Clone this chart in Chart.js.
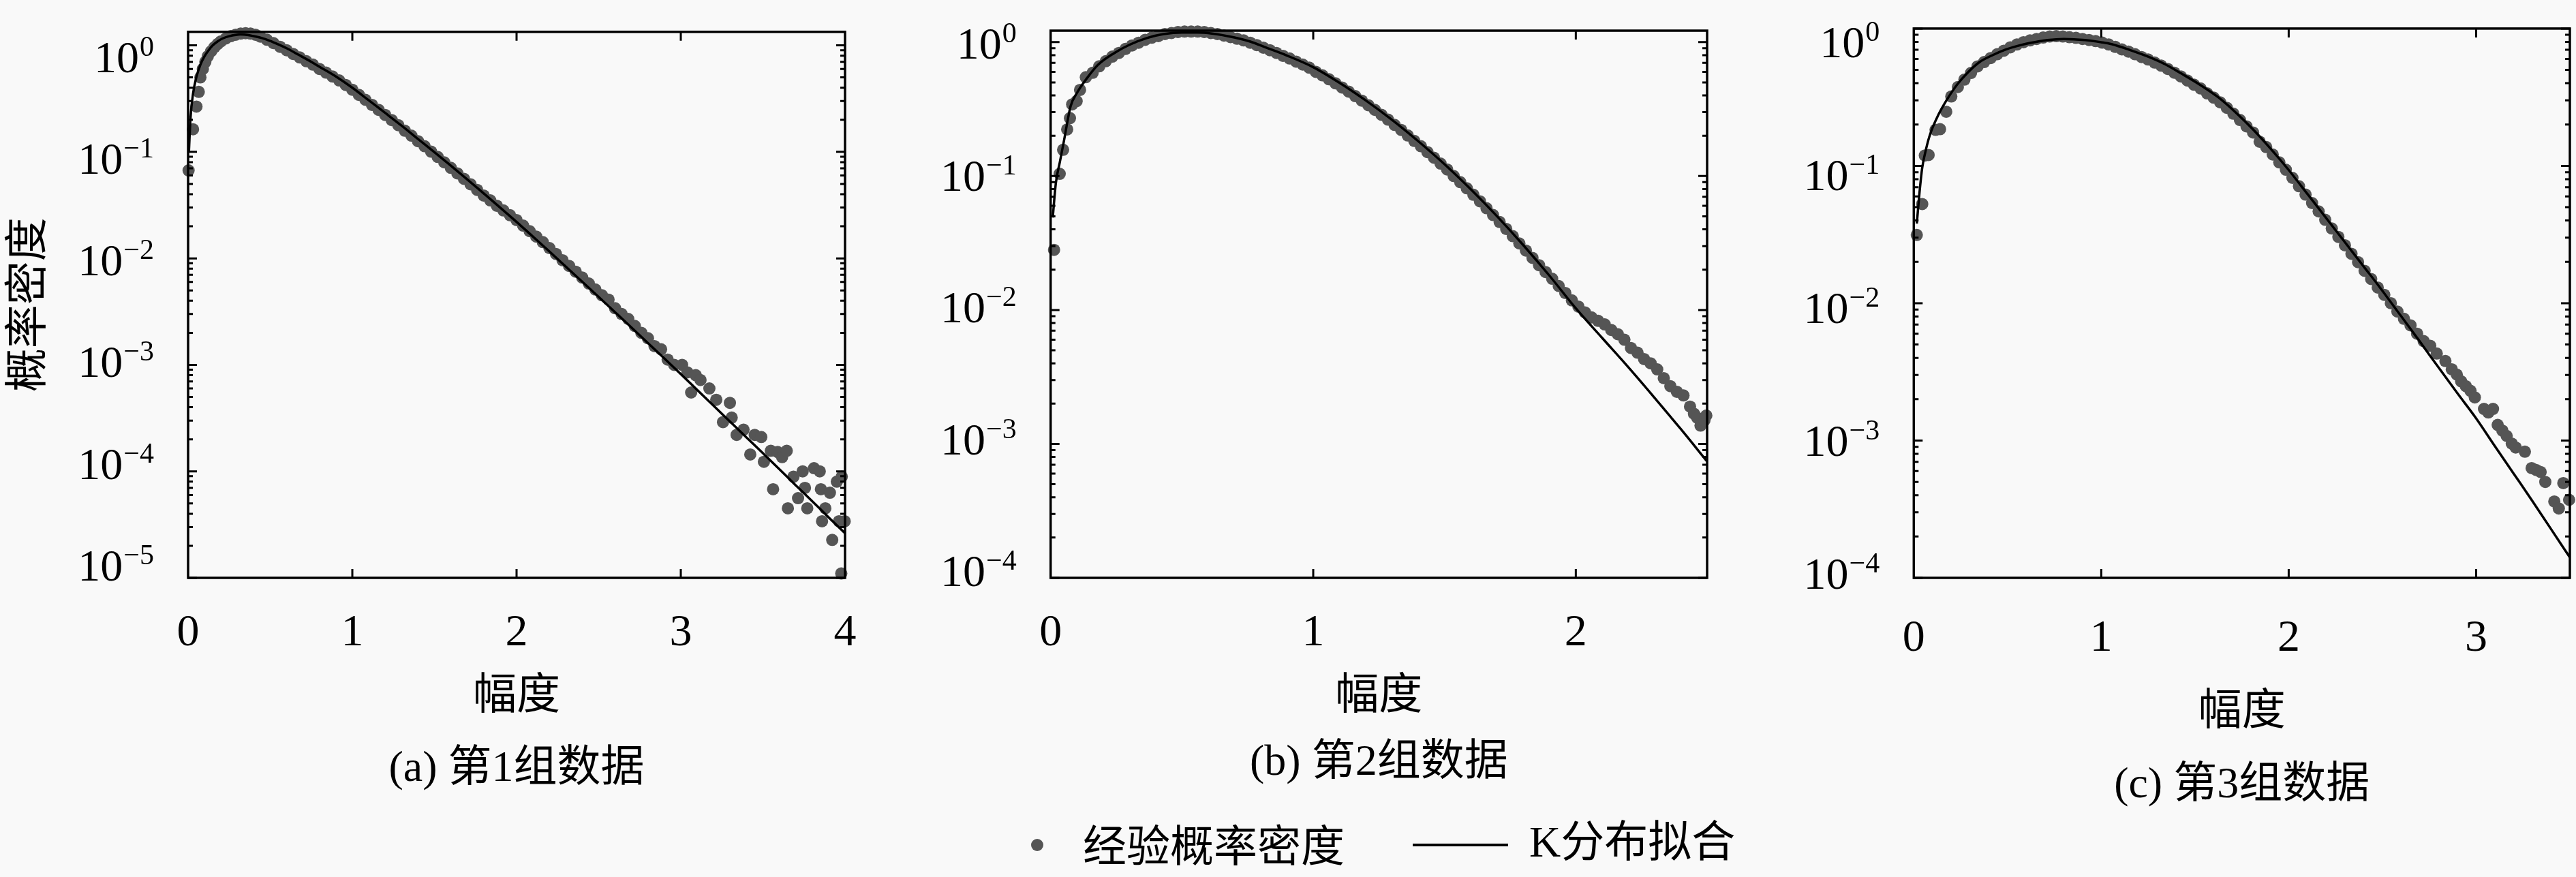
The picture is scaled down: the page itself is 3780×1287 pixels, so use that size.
<!DOCTYPE html>
<html>
<head>
<meta charset="utf-8">
<script src="https://cdn.jsdelivr.net/npm/chart.js@4.4.1/dist/chart.umd.min.js"></script>
<style>
html,body{margin:0;padding:0;background:#f9f9f9;}
#page{position:relative;width:3780px;height:1287px;overflow:hidden;background:#f9f9f9;}
#page canvas{position:absolute;top:0;}
.lg{position:absolute;color:#000;font-size:64px;line-height:64px;white-space:nowrap;}
</style>
</head>
<body>
<div id="page">
<canvas id="ca" width="1300" height="1287" style="left:0px;width:1300px;height:1287px"></canvas>
<canvas id="cb" width="1300" height="1287" style="left:1300px;width:1300px;height:1287px"></canvas>
<canvas id="cc" width="1180" height="1287" style="left:2600px;width:1180px;height:1287px"></canvas>
<div id="lgDot" style="position:absolute;left:1512.6px;top:1231px;width:18px;height:18px;border-radius:50%;background:#555;"></div>
<div class="lg" style="left:1589px;top:1204px;font-family:'Noto Sans CJK SC';">经验概率密度</div>
<div style="position:absolute;left:2073px;top:1238px;width:140px;height:3.5px;background:#000;"></div>
<div class="lg" style="left:2244px;top:1204px;font-family:'Liberation Serif','Noto Sans CJK SC';">K分布拟合</div>
</div>
<script>
// ---------------- data ----------------
const xTicksA = [0, 1, 2, 3, 4];
const xTicksB = [0, 1, 2];
const xTicksC = [0, 1, 2, 3];
const yExpA = [-5, -4, -3, -2, -1, 0];
const yExpB = [-4, -3, -2, -1, 0];
const yExpC = [-4, -3, -2, -1, 0];

const captions = ['(a) 第1组数据', '(b) 第2组数据', '(c) 第3组数据'];
const xTitle = '幅度';
const yTitle = '概率密度';
const legendLabels = ['经验概率密度', 'K分布拟合'];

// (a) K-distribution fit
const ampA_fit = [0.005,0.015,0.03,0.05,0.075,0.10,0.125,0.15,0.18,0.21,0.25,0.29,0.32,0.36,0.40,0.45,0.50,0.55,0.60,0.67,0.75,0.80,0.90,1.0,
  1.1,1.2,1.3,1.4,1.5,1.6,1.7,1.8,1.9,2.0,2.1,2.2,2.3,2.4,2.5,2.6,2.7,2.8,2.9,3.0,3.1,3.2,3.3,3.4,3.5,3.6,3.7,3.8,3.9,4.0];
const pdfA_fit = [0.10,0.21,0.35,0.50,0.66,0.79,0.90,1.00,1.09,1.16,1.22,1.255,1.265,1.255,1.22,1.17,1.10,1.02,0.94,0.82,0.70,0.63,0.51,0.40,
  0.305,0.232,0.176,0.132,0.0993,0.0741,0.0551,0.0407,0.0300,0.0220,0.0160,0.0116,0.00836,0.00603,0.00434,0.00312,0.00224,0.00160,0.00115,0.00082,
  0.000582,0.000413,0.000293,0.000208,0.000148,0.000105,0.000074,0.0000525,0.000037,0.0000263];
// (a) empirical pdf
const ampA_emp = [0.003,0.030,0.051,0.065,0.075,0.09,0.105,0.12,0.14,0.16,0.18,0.20,0.23,0.26,0.29,0.32,0.35,0.38,0.41,0.44,
  0.48,0.52,0.56,0.60,0.64,0.68,0.72,0.76,0.80,0.84,0.88,0.92,0.96,1.00,1.04,1.08,1.12,1.16,1.20,1.24,1.28,1.32,1.36,1.40,1.44,1.48,
  1.52,1.56,1.60,1.64,1.68,1.72,1.76,1.80,1.84,1.88,1.92,1.96,2.00,2.04,2.08,2.12,2.16,2.20,2.24,2.28,2.32,2.36,2.40,2.44,2.48,
  2.52,2.56,2.60,2.64,2.68,2.72,2.76,2.80,2.84,2.88,2.92,2.96,
  3.008,3.04,3.063,3.091,3.12,3.174,3.216,3.257,3.299,3.31,3.34,3.382,3.423,3.45,3.49,3.506,3.548,3.562,3.59,3.617,3.645,3.652,
  3.686,3.714,3.742,3.756,3.77,3.811,3.846,3.853,3.86,3.88,3.908,3.922,3.95,3.963,3.977,3.98,3.998];
const pdfA_emp = [0.067,0.163,0.266,0.366,0.50,0.60,0.70,0.79,0.88,0.96,1.03,1.09,1.16,1.22,1.26,1.29,1.30,1.29,1.26,1.21,
  1.13,1.05,0.97,0.90,0.83,0.77,0.71,0.66,0.60,0.555,0.51,0.468,0.425,0.383,0.343,0.308,0.276,0.248,0.222,0.199,0.178,0.158,0.142,0.126,0.113,0.1005,
  0.0896,0.0797,0.0708,0.0628,0.0558,0.0496,0.0439,0.0389,0.035,0.0312,0.0282,0.0254,0.0229,0.0203,0.018,0.016,0.0142,0.0125,0.011,0.0096,0.0085,0.0075,0.0066,0.0058,0.0051,
  0.0045,0.0041,0.0034,0.0030,0.0027,0.00232,0.0020,0.00178,0.0015,0.0014,0.00112,0.0010,
  0.0010,0.00085,0.00055,0.00080,0.00072,0.00060,0.00047,0.00029,0.00044,0.00032,0.00022,0.000246,0.000144,0.00022,0.00021,0.000123,0.000156,0.000068,0.000152,0.000136,0.000156,0.000045,
  0.000089,0.000056,0.00010,0.000070,0.000045,0.000107,0.00010,0.000068,0.000034,0.000045,0.000063,0.0000227,0.00008,0.000034,0.000011,0.000089,0.000034];

// (b) K-distribution fit
const ampB_fit = [0.008,0.02,0.035,0.05,0.076,0.10,0.138,0.18,0.242,0.30,0.366,0.43,0.50,0.56,0.614,0.70,0.76,0.821,0.90,1.0,
  1.1,1.2,1.3,1.4,1.5,1.6,1.7,1.8,1.9,2.0,2.1,2.2,2.3,2.4,2.5];
const pdfB_fit = [0.049,0.089,0.127,0.18,0.332,0.417,0.537,0.676,0.828,0.955,1.073,1.148,1.18,1.18,1.16,1.084,1.01,0.91,0.794,0.65,
  0.497,0.367,0.263,0.182,0.1225,0.0796,0.0501,0.0305,0.018,0.0103,0.0062,0.00374,0.00221,0.00129,0.00074];
// (b) empirical pdf
const ampB_emp = [0.013,0.0345,0.0475,0.063,0.0735,0.082,0.099,0.112,0.134,
  0.16,0.185,0.21,0.235,0.26,0.285,0.31,0.335,0.36,0.385,0.41,0.435,0.46,0.485,0.51,0.535,0.56,0.585,0.61,0.635,0.66,0.685,0.71,0.735,0.76,0.785,0.81,0.835,0.86,0.885,0.91,0.935,0.96,0.985,
  1.01,1.035,1.06,1.085,1.11,1.135,1.16,1.185,1.21,1.235,1.26,1.285,1.31,1.335,1.36,1.385,1.41,1.435,1.46,1.485,1.51,1.535,1.56,1.585,1.61,1.635,1.66,1.685,1.71,1.735,1.76,1.785,1.81,1.835,1.86,1.885,1.91,1.935,1.96,1.985,
  2.01,2.035,2.06,2.085,2.11,2.135,2.16,2.185,2.21,2.235,2.26,2.285,2.31,2.335,2.36,2.385,2.41,2.435,2.45,2.462,2.475,2.49,2.497];
const pdfB_emp = [0.0281,0.104,0.157,0.223,0.271,0.343,0.363,0.44,0.547,
  0.59,0.66,0.72,0.78,0.83,0.89,0.945,0.99,1.04,1.08,1.11,1.15,1.17,1.19,1.20,1.20,1.20,1.19,1.17,1.15,1.12,1.09,1.06,1.03,0.99,0.95,0.91,0.87,0.83,0.79,0.755,0.715,0.68,0.645,
  0.60,0.565,0.528,0.492,0.458,0.427,0.395,0.366,0.338,0.312,0.287,0.264,0.241,0.221,0.201,0.183,0.167,0.151,0.137,0.124,0.112,0.100,0.090,0.081,0.0725,0.0648,0.0575,0.0512,0.0454,0.0403,0.0356,0.0314,0.0278,0.0245,0.0216,0.0192,0.0171,0.0151,0.0134,0.0118,
  0.0106,0.0096,0.0088,0.0083,0.0078,0.0071,0.0066,0.0060,0.0052,0.0048,0.0043,0.0040,0.0036,0.0031,0.0027,0.00245,0.0023,0.0019,0.00168,0.00157,0.00137,0.0015,0.00163];

// (c) K-distribution fit
const ampC_fit = [0.016,0.03,0.045,0.065,0.087,0.13,0.173,0.23,0.287,0.35,0.42,0.486,0.55,0.62,0.714,0.80,0.913,1.0,1.055,1.15,1.25,1.34,1.43,1.52,1.624,
  1.72,1.81,1.9,2.0,2.1,2.194,2.3,2.4,2.478,2.6,2.7,2.763,2.9,3.0,3.1,3.2,3.3,3.4,3.5];
const pdfC_fit = [0.038,0.063,0.097,0.132,0.17,0.234,0.298,0.389,0.477,0.569,0.64,0.70,0.745,0.785,0.825,0.84,0.825,0.795,0.77,0.70,0.624,0.55,0.468,0.395,0.316,
  0.243,0.184,0.135,0.0933,0.0624,0.0427,0.0278,0.0185,0.0135,0.00804,0.00525,0.00398,0.00221,0.00145,0.00091,0.000575,0.000363,0.000226,0.000141];
// (c) empirical pdf
const ampC_emp = [0.016,0.045,0.059,0.079,0.116,0.14,0.173,
  0.20,0.235,0.27,0.305,0.34,0.375,0.41,0.445,0.48,0.515,0.55,0.585,0.62,0.655,0.69,0.725,0.76,0.795,0.83,0.865,0.90,0.935,0.97,1.005,
  1.04,1.075,1.11,1.145,1.18,1.215,1.25,1.285,1.32,1.355,1.39,1.425,1.46,1.495,1.53,1.565,1.60,1.635,1.67,1.705,1.74,1.775,1.81,1.845,1.88,1.915,1.95,1.985,
  2.02,2.055,2.09,2.125,2.16,2.195,2.23,2.265,2.30,2.335,2.37,2.405,2.44,2.475,2.51,2.545,2.58,2.615,2.65,2.685,2.72,2.755,2.79,
  2.836,2.87,2.897,2.92,2.945,2.97,2.993,3.042,3.065,3.09,3.115,3.14,3.163,3.19,3.211,3.26,3.296,3.32,3.344,3.369,3.417,3.441,3.465,3.496];
const pdfC_emp = [0.0314,0.0527,0.119,0.12,0.183,0.185,0.248,
  0.32,0.375,0.425,0.475,0.53,0.57,0.61,0.65,0.69,0.73,0.765,0.795,0.82,0.84,0.86,0.875,0.88,0.875,0.865,0.855,0.84,0.825,0.81,0.79,
  0.765,0.735,0.705,0.68,0.65,0.62,0.595,0.565,0.537,0.508,0.477,0.448,0.418,0.39,0.366,0.337,0.314,0.29,0.265,0.24,0.216,0.194,0.175,0.15,0.137,0.121,0.106,0.0937,
  0.0818,0.0711,0.0618,0.0536,0.0466,0.0405,0.035,0.0304,0.0264,0.0229,0.0199,0.0172,0.0150,0.0130,0.0115,0.0100,0.0087,0.0077,0.0069,0.0060,0.0053,0.0049,0.0043,
  0.00379,0.0033,0.00302,0.0027,0.00249,0.0023,0.00206,0.0017,0.0016,0.0017,0.0013,0.00118,0.00108,0.00095,0.00089,0.00083,0.00063,0.00061,0.00059,0.0005,0.00036,0.00032,0.00049,0.00037];

// ---------------- helpers ----------------
function pts(xs, ys) {
  const n = Math.min(xs.length, ys.length), out = [];
  for (let i = 0; i < n; i++) out.push({x: xs[i], y: ys[i]});
  return out;
}

const NUM_FONT = 'Liberation Serif';
const CJK_FONT = 'Noto Sans CJK SC';

const frameTicks = {
  id: 'frameTicks',
  afterDatasetsDraw(chart, args, opts) {
    const {ctx, chartArea: a} = chart;
    const x = chart.scales.x, y = chart.scales.y;
    ctx.save();
    ctx.strokeStyle = '#000';
    ctx.fillStyle = '#000';
    ctx.lineWidth = 3;
    ctx.beginPath();
    x.ticks.forEach(t => {
      const px = x.getPixelForValue(t.value);
      if (px <= a.left + 2 || px >= a.right - 2) return;
      ctx.moveTo(px, a.bottom); ctx.lineTo(px, a.bottom - 13);
      ctx.moveTo(px, a.top); ctx.lineTo(px, a.top + 13);
    });
    y.ticks.forEach(t => {
      const py = y.getPixelForValue(t.value);
      if (py < a.top - 0.5 || py > a.bottom + 0.5) return;
      const len = t.major ? 13 : 7;
      ctx.moveTo(a.left, py); ctx.lineTo(a.left + len, py);
      ctx.moveTo(a.right, py); ctx.lineTo(a.right - len, py);
    });
    ctx.stroke();
    ctx.lineWidth = 3.5;
    ctx.strokeRect(a.left, a.top, a.right - a.left, a.bottom - a.top);
    // y tick labels 10^e
    const mid = (a.top + a.bottom) / 2;
    ctx.textAlign = 'right';
    ctx.textBaseline = 'alphabetic';
    opts.exps.forEach(e => {
      const py = y.getPixelForValue(Math.pow(10, e));
      const ly = py + opts.k * (mid - py) + opts.off;
      const xr = a.left - 50;
      const expStr = e === 0 ? '0' : '\u2212' + Math.abs(e);
      ctx.font = '42px "' + NUM_FONT + '"';
      const w = ctx.measureText(expStr).width;
      ctx.fillText(expStr, xr, ly - 2);
      ctx.font = '66px "' + NUM_FONT + '"';
      ctx.fillText('10', xr - w - 1, ly + 22);
    });
    ctx.restore();
  }
};

function makeChart(id, cfg) {
  const yTicksFn = s => {
    const t = [];
    const e0 = Math.floor(Math.log10(cfg.yMin)) , e1 = Math.ceil(Math.log10(cfg.yMax));
    for (let e = e0; e <= e1; e++) {
      for (let m = 1; m <= 9; m++) {
        const v = m * Math.pow(10, e);
        if (v >= cfg.yMin * 0.999 && v <= cfg.yMax * 1.001) t.push({value: v, major: m === 1});
      }
    }
    s.ticks = t;
  };
  return new Chart(document.getElementById(id), {
    type: 'scatter',
    data: {
      datasets: [
        {
          label: legendLabels[1],
          data: pts(cfg.fitX, cfg.fitY),
          showLine: true,
          borderColor: '#000',
          borderWidth: 3.5,
          pointRadius: 0,
          pointHoverRadius: 0,
          cubicInterpolationMode: 'monotone',
          fill: false
        },
        {
          label: legendLabels[0],
          data: pts(cfg.empX, cfg.empY),
          showLine: false,
          pointRadius: 9,
          pointHoverRadius: 9,
          pointBorderWidth: 0,
          pointBackgroundColor: '#555',
          backgroundColor: '#555',
          borderColor: '#555',
          clip: 12
        }
      ]
    },
    options: {
      responsive: false,
      devicePixelRatio: 1,
      animation: false,
      events: [],
      layout: {padding: {left: 0, right: cfg.padR, top: cfg.padT, bottom: 0}},
      scales: {
        x: {
          type: 'linear',
          min: 0, max: cfg.xMax,
          grid: {display: false},
          border: {display: false},
          afterBuildTicks: s => { s.ticks = cfg.xTicks.map(v => ({value: v})); },
          afterFit: s => { s.height = cfg.xH; },
          ticks: {
            autoSkip: false, maxRotation: 0, padding: cfg.tickPad, color: '#000',
            font: {family: NUM_FONT, size: 66, lineHeight: 1.2},
            callback: v => String(v)
          },
          title: {
            display: true, text: xTitle, color: '#000',
            font: {family: CJK_FONT, size: 64, lineHeight: 1.2, weight: 'normal'},
            padding: {top: 0, bottom: cfg.xtPB}
          }
        },
        y: {
          type: 'logarithmic',
          min: cfg.yMin, max: cfg.yMax,
          grid: {display: false},
          border: {display: false},
          afterBuildTicks: yTicksFn,
          afterFit: s => { s.width = cfg.yW; },
          ticks: {display: false},
          title: {
            display: !!cfg.yTitle, text: cfg.yTitle || '', color: '#000',
            font: {family: CJK_FONT, size: 64, lineHeight: 1, weight: 'normal'},
            padding: {top: 5, bottom: 0}
          }
        }
      },
      plugins: {
        legend: {display: false},
        tooltip: {enabled: false},
        title: {
          display: true, text: cfg.caption, position: 'bottom', fullSize: false, color: '#000',
          font: {family: "'" + NUM_FONT + "','" + CJK_FONT + "'", size: 64, lineHeight: 1.2, weight: 'normal'},
          padding: {top: 0, bottom: cfg.capPB}
        },
        frameTicks: {exps: cfg.yExp, k: cfg.k, off: cfg.off}
      }
    },
    plugins: [frameTicks]
  });
}

makeChart('ca', {
  caption: captions[0], yTitle: yTitle, xMax: 4, yMin: 1e-5, yMax: 1.34,
  xTicks: xTicksA, yExp: yExpA, fitX: ampA_fit, fitY: pdfA_fit, empX: ampA_emp, empY: pdfA_emp,
  yW: 276, padR: 60, padT: 46.7, xH: 242.6, capPB: 119.6, xtPB: 36.2, tickPad: 34, k: 0.045, off: 0
});
makeChart('cb', {
  caption: captions[1], yTitle: null, xMax: 2.5, yMin: 1e-4, yMax: 1.218,
  xTicks: xTicksB, yExp: yExpB, fitX: ampB_fit, fitY: pdfB_fit, empX: ampB_emp, empY: pdfB_emp,
  yW: 241.7, padR: 95, padT: 45, xH: 233.6, capPB: 128.6, xtPB: 27.2, tickPad: 34, k: 0.016, off: -3.5
});
makeChart('cc', {
  caption: captions[2], yTitle: null, xMax: 3.5, yMin: 1e-4, yMax: 1.0,
  xTicks: xTicksC, yExp: yExpC, fitX: ampC_fit, fitY: pdfC_fit, empX: ampC_emp, empY: pdfC_emp,
  yW: 208.3, padR: 9, padT: 41.9, xH: 266.6, capPB: 95.6, xtPB: 37.2, tickPad: 42.4, k: 0.032, off: 7
});
</script>
</body>
</html>
